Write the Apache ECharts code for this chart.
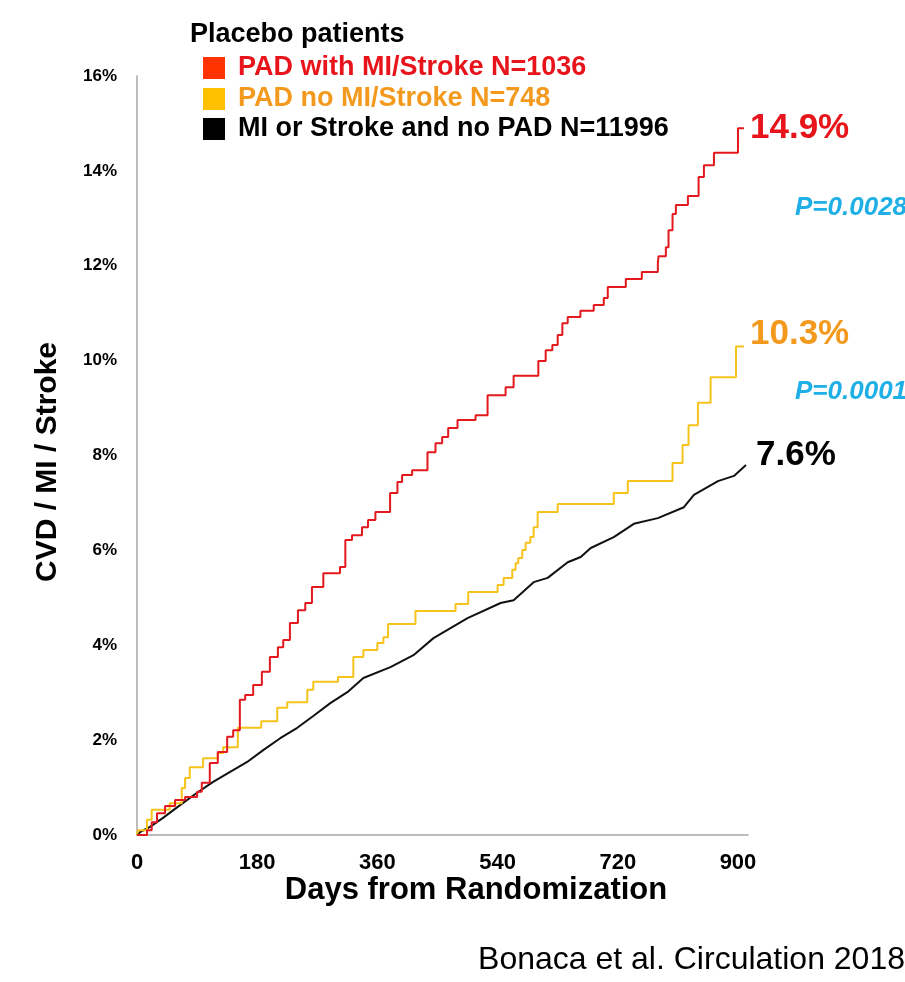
<!DOCTYPE html>
<html>
<head>
<meta charset="utf-8">
<script src="https://cdn.jsdelivr.net/npm/echarts@6/dist/echarts.min.js"></script>
<style>
html,body{margin:0;padding:0;background:#fff;}
#chart{width:905px;height:982px;}
</style>
</head>
<body>
<div id="chart"></div>
<script>
// ---- Data ----
const redDays = [0,15,22,30,42,57,72,90,97,109,121,135,144,154,162,174,187,199,211,219,229,241,252,262,279,304,312,322,337,346,357,379,390,397,412,435,447,457,466,480,507,525,552,564,601,612,622,630,637,645,664,684,699,705,732,756,780,781,792,796,802,807,825,841,849,864,900,909];
const redPct = [0,0.1,0.27,0.46,0.61,0.74,0.8,0.91,1.1,1.52,1.75,2.07,2.21,2.85,2.95,3.16,3.44,3.75,3.96,4.11,4.47,4.74,4.89,5.23,5.52,5.65,6.22,6.32,6.49,6.64,6.81,7.21,7.44,7.59,7.69,8.07,8.26,8.39,8.58,8.75,8.85,9.27,9.44,9.68,9.99,10.22,10.33,10.54,10.79,10.92,11.05,11.17,11.32,11.55,11.72,11.87,12.06,12.2,12.39,12.75,13.09,13.28,13.47,13.87,14.12,14.38,14.9,14.9];

const yelDays = [0,1.5,15,22,49,67,72,79,99,121,129,151,186,210,225,255,264,301,324,339,360,369,376,417,477,496,540,549,562,567,571,577,582,589,594,600,630,714,735,802,817,826,840,859,897,909];
const yelPct = [0,0.1,0.32,0.53,0.67,0.99,1.2,1.43,1.62,1.73,1.85,2.26,2.4,2.68,2.8,3.06,3.23,3.33,3.75,3.9,4.05,4.17,4.45,4.72,4.87,5.12,5.27,5.42,5.59,5.73,5.84,6.01,6.16,6.28,6.49,6.81,6.98,7.21,7.46,7.84,8.22,8.64,9.11,9.65,10.3,10.3];

const blkDays = [0,4.5,19.5,39,64.5,90,114,139.5,165,189,214.5,240,264,289.5,315,339,379.5,414,444,495,544.5,564,594,615,645,664.5,679.5,714,744,780,819,834,870,894,912];
const blkPct = [0,0.06,0.17,0.36,0.63,0.89,1.12,1.33,1.54,1.79,2.04,2.26,2.51,2.78,3.01,3.31,3.54,3.79,4.15,4.57,4.89,4.95,5.33,5.42,5.75,5.86,6.05,6.28,6.56,6.68,6.91,7.17,7.46,7.57,7.8];

const seriesNames = ['PAD with MI/Stroke N=1036','PAD no MI/Stroke N=748','MI or Stroke and no PAD N=11996'];
const endLabels = ['14.9%','10.3%','7.6%'];
const pValues = ['P=0.0028','P=0.0001'];
const legendTitle = 'Placebo patients';
const xTitle = 'Days from Randomization';
const yTitle = 'CVD / MI / Stroke';
const citation = 'Bonaca et al. Circulation 2018';

// ---- Styles ----
const FONT = '"Liberation Sans", Arial, Helvetica, sans-serif';
const lineColors = ['#E3191E','#F6C31A','#111111'];
const legendSwatch = ['#FF3300','#FFC000','#000000'];
const textColors = ['#E8141B','#F39A1E','#000000'];
const pColor = '#1EAFE6';

function zip(a,b){ return a.map((v,i)=>[v,b[i]]); }

const chart = echarts.init(document.getElementById('chart'), null, {renderer:'canvas'});

const legendRows = [68,99,129];
const graphics = [
  {type:'text', x:190, y:35, style:{text:legendTitle, fill:'#000', font:'bold 27px '+FONT, textAlign:'left', textVerticalAlign:'middle', verticalAlign:'middle'}}
];
seriesNames.forEach((n,i)=>{
  graphics.push({type:'rect', shape:{x:203, y:legendRows[i]-11, width:22, height:22}, style:{fill:legendSwatch[i]}});
  graphics.push({type:'text', x:238, y:legendRows[i], style:{text:n, fill:textColors[i], font:'bold 27px '+FONT, textAlign:'left', textVerticalAlign:'middle', verticalAlign:'middle'}});
});
graphics.push({type:'text', x:795, y:208, style:{text:pValues[0], fill:pColor, font:'italic bold 26px '+FONT, textAlign:'left', textVerticalAlign:'middle', verticalAlign:'middle'}});
graphics.push({type:'text', x:795, y:392, style:{text:pValues[1], fill:pColor, font:'italic bold 26px '+FONT, textAlign:'left', textVerticalAlign:'middle', verticalAlign:'middle'}});
graphics.push({type:'text', x:476, y:890, style:{text:xTitle, fill:'#000', font:'bold 31px '+FONT, textAlign:'center', textVerticalAlign:'middle', verticalAlign:'middle'}});
graphics.push({type:'text', x:48, y:462, rotation:Math.PI/2, style:{text:yTitle, fill:'#000', font:'bold 30px '+FONT, textAlign:'center', textVerticalAlign:'middle', verticalAlign:'middle'}});
graphics.push({type:'text', x:905, y:960, style:{text:citation, fill:'#000', font:'32px '+FONT, textAlign:'right', textVerticalAlign:'middle', verticalAlign:'middle'}});

function mkSeries(i, data, step, offset){
  return {
    type:'line', name:seriesNames[i], data:data, step:step, showSymbol:false, symbol:'none',
    lineStyle:{color:lineColors[i], width:2},
    z: 3-i,
    endLabel:{show:true, formatter:endLabels[i], color:textColors[i], fontSize:35, fontWeight:'bold', fontFamily:FONT, offset:offset, distance:6},
    animation:false
  };
}

chart.setOption({
  animation:false,
  backgroundColor:'#fff',
  grid:{left:137, right:157, top:76, bottom:147, containLabel:false},
  xAxis:{
    type:'value', min:0, max:915, interval:180,
    axisLine:{show:true, lineStyle:{color:'#A6A6A6', width:1.5}},
    axisTick:{show:false}, splitLine:{show:false},
    axisLabel:{color:'#000', fontSize:22, fontWeight:'bold', fontFamily:FONT, margin:17,
      formatter:function(v){ return v%180===0 ? String(v) : ''; }}
  },
  yAxis:{
    type:'value', min:0, max:16, interval:2,
    axisLine:{show:true, lineStyle:{color:'#A6A6A6', width:1.5}},
    axisTick:{show:false}, splitLine:{show:false},
    axisLabel:{color:'#000', fontSize:17, fontWeight:'bold', fontFamily:FONT, margin:20,
      formatter:function(v){ return v+'%'; }}
  },
  series:[
    mkSeries(2, zip(blkDays, blkPct), false, [4,-10]),
    mkSeries(1, zip(yelDays, yelPct), 'end', [0,-12]),
    mkSeries(0, zip(redDays, redPct), 'end', [0,0])
  ],
  graphic: graphics
});
</script>
</body>
</html>
